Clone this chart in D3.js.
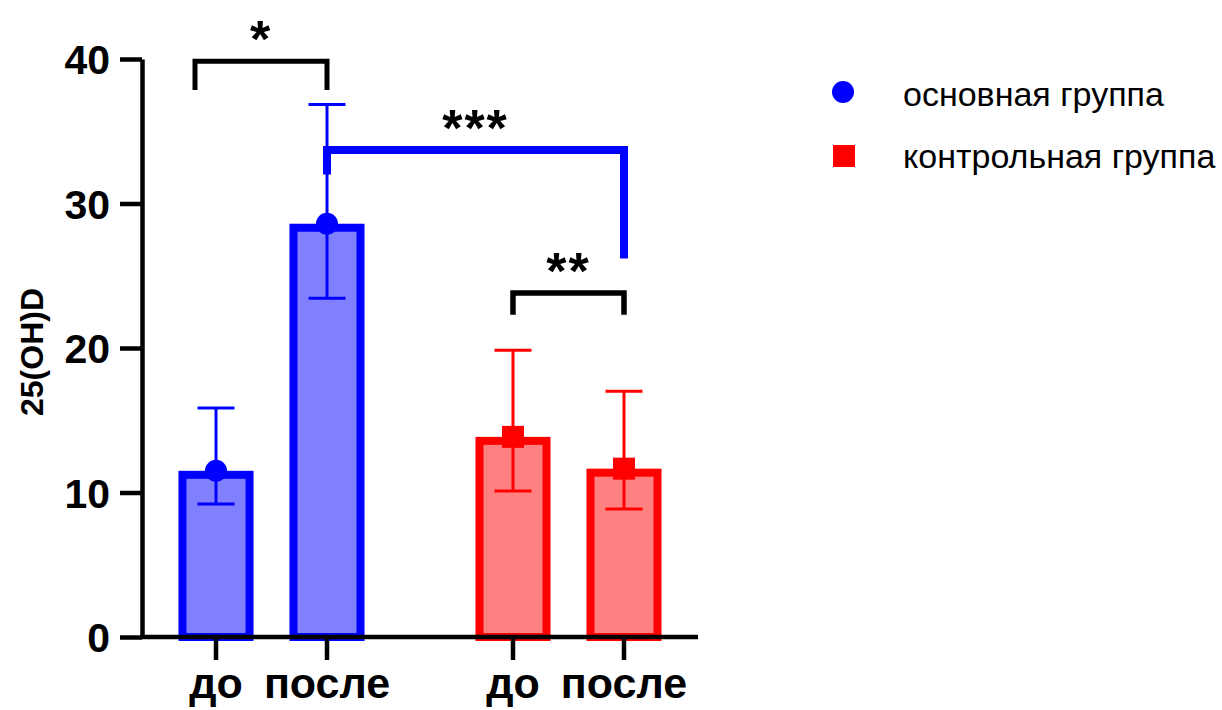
<!DOCTYPE html>
<html>
<head>
<meta charset="utf-8">
<script src="https://cdn.jsdelivr.net/npm/d3@7"></script>
<style>
  html, body { margin: 0; padding: 0; background: #ffffff; }
  svg { display: block; }
  text { font-family: "Liberation Sans", Arial, "DejaVu Sans", sans-serif; }
</style>
</head>
<body>
<svg id="chart" width="1222" height="710"></svg>
<script>
// ---------- data ----------
const groups = ["основная группа", "контрольная группа"];
const conditions = ["до", "после"];
const mainMeans = [11.5, 28.6];
const mainUpper = [15.85, 36.85];
const mainLower = [9.2, 23.45];
const ctrlMeans = [13.85, 11.65];
const ctrlUpper = [19.85, 17.0];
const ctrlLower = [10.1, 8.85];
const yTicks = [0, 10, 20, 30, 40];
const yLabel = "25(OH)D";
// significance brackets (data units)
const sigLabels = ["*", "***", "**"];
const sigFromGroup = [0, 0, 1];
const sigFromCond = [0, 1, 0];
const sigToGroup = [0, 1, 1];
const sigToCond = [1, 1, 1];
const sigTop = [39.85, 33.7, 23.8];
const sigLeftEnd = [37.85, 32.0, 22.3];
const sigRightEnd = [37.85, 26.2, 22.3];

// ---------- styling ----------
const colors = [
  { stroke: "#0000ff", fill: "#8080ff" },
  { stroke: "#ff0000", fill: "#ff8080" }
];
const sigColors = ["#000000", "#0000ff", "#000000"];
const sigWidths = [5, 8, 5.5];
const sigLeftShift = [-21, 0, 0];

const svg = d3.select("#chart");

const y = d3.scaleLinear().domain([0, 40]).range([637, 59]);
const xGroup = d3.scaleBand().domain(groups).range([142, 698])
  .paddingInner(0.2525).paddingOuter(0.0623);
const xCond = d3.scaleBand().domain(conditions).range([0, xGroup.bandwidth()])
  .paddingInner(0.324).paddingOuter(0.162);

const rows = [];
groups.forEach((g, gi) => {
  const m = gi === 0 ? mainMeans : ctrlMeans;
  const up = gi === 0 ? mainUpper : ctrlUpper;
  const lo = gi === 0 ? mainLower : ctrlLower;
  conditions.forEach((c, ci) => {
    rows.push({ group: g, gi, cond: c, ci, mean: m[ci], upper: up[ci], lower: lo[ci] });
  });
});
const cx = d => xGroup(d.group) + xCond(d.cond) + xCond.bandwidth() / 2;

// ---------- bars ----------
const bw = 8;
svg.append("g").selectAll("rect").data(rows).join("rect")
  .attr("x", d => xGroup(d.group) + xCond(d.cond) + bw / 2)
  .attr("width", xCond.bandwidth() - bw)
  .attr("y", d => y(d.mean) + bw / 2)
  .attr("height", d => y(0) - y(d.mean) - bw / 2)
  .attr("fill", d => colors[d.gi].fill)
  .attr("stroke", d => colors[d.gi].stroke)
  .attr("stroke-width", bw);

// ---------- error bars ----------
const capW = 37;
const eb = svg.append("g");
rows.forEach(d => {
  const c = colors[d.gi].stroke;
  eb.append("line").attr("x1", cx(d)).attr("x2", cx(d))
    .attr("y1", y(d.upper)).attr("y2", y(d.lower))
    .attr("stroke", c).attr("stroke-width", 3);
  [d.upper, d.lower].forEach(v => {
    eb.append("line").attr("x1", cx(d) - capW / 2).attr("x2", cx(d) + capW / 2)
      .attr("y1", y(v)).attr("y2", y(v))
      .attr("stroke", c).attr("stroke-width", 3);
  });
});

// ---------- markers ----------
rows.forEach(d => {
  if (d.gi === 0) {
    svg.append("circle").attr("cx", cx(d)).attr("cy", y(d.mean)).attr("r", 11)
      .attr("fill", colors[0].stroke);
  } else {
    svg.append("rect").attr("x", cx(d) - 11).attr("y", y(d.mean) - 11)
      .attr("width", 22).attr("height", 22).attr("fill", colors[1].stroke);
  }
});

// ---------- axes ----------
const yAxis = svg.append("g").attr("transform", "translate(142,0)")
  .call(d3.axisLeft(y).tickValues(yTicks).tickSize(22).tickPadding(10).tickSizeOuter(0));
yAxis.select(".domain").attr("stroke", "#000").attr("stroke-width", 4.5);
yAxis.selectAll(".tick line").attr("stroke", "#000").attr("stroke-width", 4.5);
yAxis.selectAll(".tick text")
  .attr("font-size", 41).attr("font-weight", "bold").attr("fill", "#000")
  .attr("font-family", "'Liberation Sans', Arial, sans-serif")
  .attr("dy", "0.36em");

const xAxisG = svg.append("g").attr("transform", `translate(0,${y(0)})`);
xAxisG.append("line").attr("x1", 140).attr("x2", 698).attr("y1", 0).attr("y2", 0)
  .attr("stroke", "#000").attr("stroke-width", 4.5);
rows.forEach(d => {
  xAxisG.append("line").attr("x1", cx(d)).attr("x2", cx(d)).attr("y1", 0).attr("y2", 23)
    .attr("stroke", "#000").attr("stroke-width", 4.5);
  xAxisG.append("text").attr("x", cx(d)).attr("y", 61)
    .attr("text-anchor", "middle").attr("font-size", 43).attr("font-weight", "bold")
    .attr("fill", "#000").text(d.cond);
});

// y label
svg.append("text")
  .attr("transform", "translate(43,352) rotate(-90)")
  .attr("text-anchor", "middle")
  .attr("font-size", 32).attr("font-weight", "bold").attr("fill", "#000")
  .text(yLabel);

// ---------- significance brackets ----------
const posOf = (g, c) => xGroup(groups[g]) + xCond(conditions[c]) + xCond.bandwidth() / 2;
sigLabels.forEach((lab, i) => {
  const xl = posOf(sigFromGroup[i], sigFromCond[i]) + sigLeftShift[i];
  const xr = posOf(sigToGroup[i], sigToCond[i]);
  const yt = y(sigTop[i]);
  svg.append("path")
    .attr("d", `M${xl},${y(sigLeftEnd[i])} L${xl},${yt} L${xr},${yt} L${xr},${y(sigRightEnd[i])}`)
    .attr("fill", "none").attr("stroke", sigColors[i]).attr("stroke-width", sigWidths[i])
    .attr("stroke-linejoin", "miter").attr("stroke-linecap", "butt");
  svg.append("text")
    .attr("x", (xl + xr) / 2).attr("y", yt - 4)
    .attr("text-anchor", "middle").attr("font-size", 52).attr("font-weight", "bold")
    .attr("letter-spacing", 2)
    .attr("fill", "#000").text(lab);
});

// ---------- legend ----------
const leg = svg.append("g");
leg.append("circle").attr("cx", 843).attr("cy", 92).attr("r", 11).attr("fill", colors[0].stroke);
leg.append("rect").attr("x", 833).attr("y", 145).attr("width", 22).attr("height", 22).attr("fill", colors[1].stroke);
groups.forEach((g, i) => {
  leg.append("text").attr("x", 903).attr("y", 106 + i * 62)
    .attr("font-size", 34).attr("fill", "#000").text(g);
});
</script>
</body>
</html>
